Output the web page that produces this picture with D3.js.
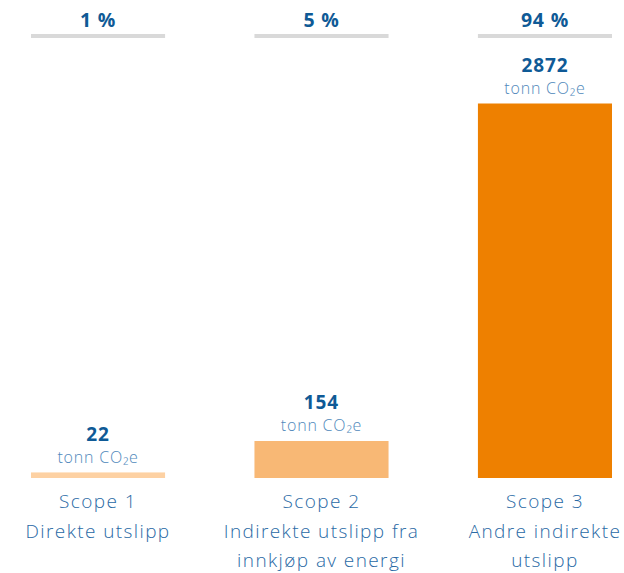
<!DOCTYPE html>
<html>
<head>
<meta charset="utf-8">
<script src="https://cdn.jsdelivr.net/npm/d3@7"></script>
<style>
  html, body { margin: 0; padding: 0; background: #fff; }
  svg { display: block; font-family: "Open Sans", "Noto Sans", sans-serif; }
</style>
</head>
<body>
<svg id="chart" width="624" height="573"></svg>
<script>
const categories = ["Scope 1", "Scope 2", "Scope 3"];
const subLabels = [["Direkte utslipp"], ["Indirekte utslipp fra", "innkjøp av energi"], ["Andre indirekte", "utslipp"]];
const values = [22, 154, 2872];
const percents = ["1 %", "5 %", "94 %"];
const unitLabel = "tonn CO₂e";
const barColors = ["#fdd1a3", "#f8b875", "#ee8000"];

const svg = d3.select("#chart");
const baseY = 478, topY = 103.5;

const x = d3.scaleBand().domain(categories).range([31, 612]).paddingInner(0.4).paddingOuter(0);
const y = d3.scaleSymlog().constant(1200).domain([0, d3.max(values)]).range([baseY, topY]);

const g = svg.selectAll("g.col").data(categories).join("g").attr("class", "col");
const cx = d => x(d) + x.bandwidth() / 2;

// grey lines at top
g.append("rect")
  .attr("x", d => x(d)).attr("y", 34)
  .attr("width", x.bandwidth()).attr("height", 4)
  .attr("fill", "#d9d9d9");

// percents
g.append("text")
  .attr("x", cx).attr("y", 27)
  .attr("text-anchor", "middle")
  .attr("font-size", 19.5).attr("font-weight", 700)
  .attr("letter-spacing", 0.8)
  .attr("fill", "#0f5a96")
  .text((d, i) => percents[i]);

// bars
g.append("rect")
  .attr("x", d => x(d))
  .attr("y", (d, i) => y(values[i]))
  .attr("width", x.bandwidth())
  .attr("height", (d, i) => baseY - y(values[i]))
  .attr("fill", (d, i) => barColors[i]);

// value labels
g.append("text")
  .attr("x", cx)
  .attr("y", (d, i) => y(values[i]) - 31.5)
  .attr("text-anchor", "middle")
  .attr("font-size", 19).attr("font-weight", 700)
  .attr("letter-spacing", 0.9)
  .attr("fill", "#0f5a96")
  .text((d, i) => values[i]);

g.append("text")
  .attr("x", cx)
  .attr("y", (d, i) => y(values[i]) - 9.5)
  .attr("text-anchor", "middle")
  .attr("font-size", 16).attr("font-weight", 300)
  .attr("letter-spacing", 0.8)
  .attr("fill", "#4f88bb")
  .text(unitLabel);

// category labels
const cat = g.append("text")
  .attr("text-anchor", "middle")
  .attr("font-size", 19).attr("font-weight", 300)
  .attr("letter-spacing", 1.4)
  .attr("fill", "#2a6aa5");
cat.each(function(d, i) {
  const t = d3.select(this);
  [d].concat(subLabels[i]).forEach((line, k) => {
    t.append("tspan").attr("x", cx(d)).attr("y", 508 + k * 29.5).text(line);
  });
});
</script>
</body>
</html>
